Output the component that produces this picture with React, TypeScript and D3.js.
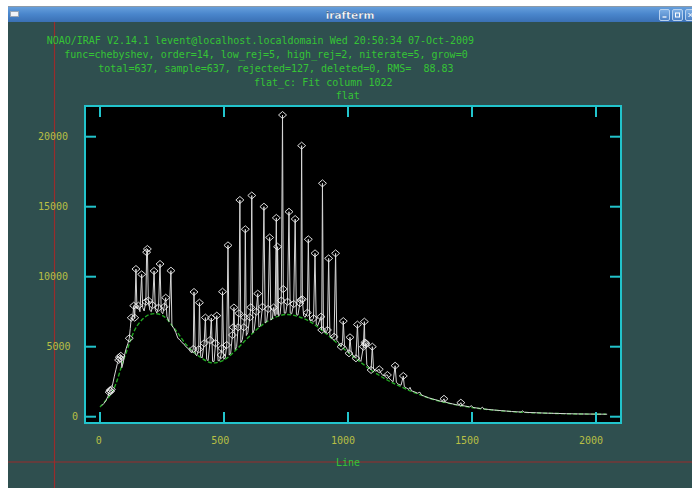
import React from 'react';
import * as d3 from 'd3';

const W = 692;
const H = 488;

// Header printed by the icfit task
const headerLines = [
  'NOAO/IRAF V2.14.1 levent@localhost.localdomain Wed 20:50:34 07-Oct-2009',
  'func=chebyshev, order=14, low_rej=5, high_rej=2, niterate=5, grow=0',
  'total=637, sample=637, rejected=127, deleted=0, RMS=  88.83',
  'flat_c: Fit column 1022',
  'flat',
];
const xLabel = 'Line';
const windowTitle = 'irafterm';

const xTicks = [0, 500, 1000, 1500, 2000];
const yTicks = [0, 5000, 10000, 15000, 20000];

// Chebyshev fit (order 14) sampled along the column
const fitLines = [0, 50, 100, 150, 200, 250, 300, 350, 400, 450, 500, 550, 600, 650, 700, 750, 800,
  850, 900, 950, 1000, 1050, 1100, 1150, 1200, 1250, 1300, 1350, 1400, 1450, 1500, 1550, 1600,
  1650, 1700, 1750, 1800, 1850, 1900, 1950, 2000, 2040];
const fitCounts = [700, 1800, 4300, 6500, 7300, 7250, 6300, 5100, 4300, 3850, 4050, 4800, 5700,
  6500, 7050, 7300, 7150, 6750, 6100, 5350, 4600, 3900, 3250, 2700, 2250, 1850, 1500, 1200, 980,
  800, 660, 540, 450, 380, 320, 280, 250, 225, 205, 190, 180, 175];

// Column samples: [line, counts, rejected (1) or kept (0)]
const rise: [number, number, number][] = [
  [8, 800, 0], [16, 950, 0], [24, 1150, 0], [32, 1450, 0], [37, 1750, 1], [40, 1880, 1],
  [43, 1820, 1], [46, 1950, 1], [52, 2400, 0], [58, 2900, 0], [64, 3350, 0], [70, 3800, 0],
  [75, 4050, 1], [78, 4250, 1], [81, 4150, 1], [84, 4350, 1], [88, 3500, 0], [94, 3900, 0],
  [100, 4500, 0], [106, 4900, 0], [112, 5200, 0],
];
const firstHump: [number, number, number][] = [
  [118, 5600, 1], [122, 6300, 0], [126, 7070, 1], [131, 6900, 0], [136, 7930, 1], [140, 7070, 1],
  [145, 10550, 1], [149, 7700, 0], [155, 7930, 1], [161, 7500, 0], [168, 10170, 1], [172, 7800, 0],
  [178, 7550, 0], [185, 8210, 1], [188, 11750, 1], [191, 11980, 1], [195, 8300, 1], [201, 7600, 0],
  [207, 7500, 0], [212, 7970, 1], [218, 10410, 1], [223, 7650, 0], [229, 7400, 0], [236, 7790, 1],
  [242, 10910, 1], [247, 7500, 0], [253, 7350, 0], [259, 7850, 1], [265, 8500, 1], [270, 7150, 0],
  [278, 6800, 0], [286, 10430, 1], [290, 6500, 0], [298, 6300, 0], [306, 6000, 0], [314, 5600, 0],
  [322, 5500, 0], [330, 5300, 0], [338, 5200, 0], [346, 5000, 0], [354, 4900, 0], [362, 4700, 0],
  [370, 4550, 0],
];
const valley: [number, number, number][] = [
  [376, 4836, 1], [379, 8910, 1], [384, 4500, 0], [390, 4350, 0], [398, 4814, 1], [401, 8143, 1],
  [406, 4300, 0], [412, 4200, 0], [420, 5243, 1], [425, 7080, 1], [430, 4100, 0], [436, 4000, 0],
  [444, 5479, 1], [449, 7050, 1], [454, 3950, 0], [460, 3950, 0], [466, 5243, 1], [471, 7220, 1],
  [476, 4000, 0], [482, 4000, 0], [488, 4407, 1], [491, 4886, 1], [494, 8929, 1], [499, 4100, 0],
  [505, 4200, 0], [511, 5121, 1], [516, 12240, 1], [521, 4400, 0], [527, 4550, 0], [534, 5836, 1],
  [537, 6386, 1], [540, 7800, 1], [545, 4800, 0], [551, 5000, 0],
];
const secondHump: [number, number, number][] = [
  [557, 6386, 1], [560, 7386, 1], [564, 15480, 1], [568, 5300, 0], [574, 5500, 0], [580, 6386, 1],
  [583, 7100, 1], [586, 13390, 1], [590, 5800, 0], [596, 6000, 0], [604, 7100, 1], [608, 7814, 1],
  [612, 15800, 1], [616, 6000, 0], [622, 6200, 0], [630, 7500, 1], [636, 8790, 1], [641, 6400, 0],
  [647, 6500, 0], [655, 7850, 1], [661, 15000, 1], [666, 6700, 0], [672, 6800, 0], [678, 7700, 1],
  [684, 12800, 1], [689, 6900, 0], [695, 7000, 0], [700, 7800, 1], [706, 7200, 0], [711, 14200, 1],
  [714, 7300, 0], [716, 12140, 1], [720, 7200, 0], [726, 7300, 0], [731, 8300, 1], [736, 21550, 1],
  [739, 9120, 1], [743, 7400, 0], [749, 7400, 0], [756, 8214, 1], [762, 14640, 1], [767, 7400, 0],
  [773, 7350, 0], [781, 8050, 1], [787, 14120, 1], [792, 7300, 0], [798, 7250, 0], [806, 8100, 1],
  [810, 8336, 1], [813, 19360, 1], [816, 8390, 1], [821, 7200, 0], [827, 7100, 0], [836, 7429, 1],
  [840, 12670, 1], [845, 6900, 0], [851, 6850, 0], [861, 7029, 1], [867, 11670, 1], [872, 6600, 0],
  [878, 6500, 0], [891, 7143, 1], [894, 6193, 1], [897, 16670, 1], [901, 6200, 0], [908, 6000, 0],
  [917, 6193, 1], [922, 11310, 1], [927, 5800, 0], [934, 5650, 0], [944, 5714, 1], [950, 11670, 1],
  [955, 5450, 0], [962, 5300, 0], [972, 5000, 1], [978, 5350, 0], [981, 6830, 1], [986, 5100, 0],
  [994, 4900, 0], [1004, 4529, 1], [1008, 5671, 1], [1013, 4600, 0], [1020, 4400, 0],
  [1032, 4171, 1], [1038, 6580, 1], [1044, 4100, 0], [1052, 3950, 0], [1062, 5000, 1],
  [1066, 6790, 1], [1068, 5300, 1], [1070, 5150, 1], [1072, 5250, 1], [1076, 3700, 0],
  [1084, 3550, 0], [1093, 3336, 1], [1098, 5000, 1], [1103, 3400, 0], [1112, 3250, 0],
  [1126, 3386, 1], [1130, 3200, 0], [1140, 2950, 0], [1159, 2979, 1], [1163, 2800, 0],
  [1174, 2600, 0], [1182, 2500, 0], [1190, 3640, 1], [1195, 2450, 0], [1205, 2300, 0],
  [1214, 2250, 0], [1223, 2910, 1], [1227, 2150, 0], [1236, 2050, 0],
];
const tail: [number, number, number][] = [
  [1245, 1950, 0], [1250, 2100, 0], [1256, 1850, 0], [1268, 1780, 0], [1280, 1680, 0],
  [1290, 1750, 0], [1296, 1550, 0], [1310, 1450, 0], [1325, 1350, 0], [1340, 1270, 0],
  [1355, 1200, 0], [1370, 1120, 0], [1380, 1080, 0], [1387, 1280, 1], [1392, 1050, 0],
  [1405, 980, 0], [1420, 920, 0], [1435, 860, 0], [1448, 820, 0], [1455, 1000, 1], [1460, 800, 0],
  [1475, 750, 0], [1490, 700, 0], [1498, 790, 0], [1504, 660, 0], [1520, 620, 0], [1535, 580, 0],
  [1542, 680, 0], [1548, 550, 0], [1565, 520, 0], [1580, 490, 0], [1600, 460, 0], [1620, 430, 0],
  [1640, 400, 0], [1660, 370, 0], [1680, 350, 0], [1698, 330, 0], [1704, 420, 0], [1710, 320, 0],
  [1730, 300, 0], [1760, 280, 0], [1790, 260, 0], [1820, 245, 0], [1850, 230, 0], [1880, 215, 0],
  [1910, 205, 0], [1940, 195, 0], [1970, 190, 0], [2000, 185, 0], [2030, 180, 0], [2045, 178, 0],
];

const BG = '#2f4f4f';
const CYAN = '#22c4cc';
const GREEN_TEXT = '#35c435';
const LABEL = '#b8bf45';
const CURSOR = '#9a2c2c';
const MONO = '"DejaVu Sans Mono", monospace';

export default function App() {
  const plot = { left: 85, right: 621, top: 106, bottom: 423 };
  const x = d3.scaleLinear().domain([-60.5, 2100.8]).range([plot.left, plot.right]);
  const y = d3.scaleLinear().domain([-450, 22193]).range([plot.bottom, plot.top]);

  const samples = [...rise, ...firstHump, ...valley, ...secondHump, ...tail];
  const dataPath = d3.line<[number, number, number]>()
    .x((d) => x(d[0]))
    .y((d) => y(d[1]))(samples) || '';

  const fitPts = fitLines.map((l, i) => [l, fitCounts[i]] as [number, number]);
  const fitPath = d3.line<[number, number]>()
    .x((d) => x(d[0]))
    .y((d) => y(d[1]))
    .curve(d3.curveCatmullRom)(fitPts) || '';

  const rejectedPts = samples.filter((d) => d[2] === 1);
  const diamond = 'M0,-3.5 L4,0 L0,3.5 L-4,0 Z';

  // IRAF lays out text with a nominal 8.5px cell while the terminal font is 6px wide
  const cell = 8.5;
  const headerX = [46.7, 64.3, 98.3, 254, 335.7];
  const headerY = [40.7, 54.7, 68.7, 82.3, 95.7];
  const tickLen = 11;

  return (
    <svg width={W} height={H} style={{ position: 'absolute', left: 0, top: 0 }}
      xmlns="http://www.w3.org/2000/svg">
      <defs>
        <linearGradient id="titlebar" x1="0" y1="0" x2="0" y2="1">
          <stop offset="0" stopColor="#6aa2de" />
          <stop offset="0.5" stopColor="#4a86cc" />
          <stop offset="1" stopColor="#3a70b4" />
        </linearGradient>
        <linearGradient id="btn" x1="0" y1="0" x2="0" y2="1">
          <stop offset="0" stopColor="#7eb0e6" />
          <stop offset="1" stopColor="#4a80c4" />
        </linearGradient>
      </defs>

      {/* window body */}
      <rect x={8} y={6} width={W - 8} height={H - 6} fill={BG} />

      {/* title bar */}
      <rect x={8} y={6} width={W - 8} height={16} fill="url(#titlebar)" />
      <line x1={8} x2={W} y1={6.5} y2={6.5} stroke="#8c9aa8" />
      <rect x={10.5} y={11.5} width={8} height={5} fill="#f2f4f8" stroke="#9aa6b4" />
      <text x={350} y={18.5} textAnchor="middle" fontFamily="'DejaVu Sans', sans-serif"
        fontSize={10.5} fontWeight="bold" fill="#ffffff" stroke="#2a4f80" strokeWidth={0.3}>
        {windowTitle}
      </text>
      {[659.5, 672.5, 685.5].map((bx, i) => (
        <g key={i}>
          <rect x={bx} y={9.5} width={10} height={11} rx={1.5} fill="url(#btn)" stroke="#b8d2f0" />
          {i === 0 && <line x1={bx + 3} x2={bx + 7} y1={17} y2={17} stroke="#fff" strokeWidth={1.2} />}
          {i === 1 && <rect x={bx + 3} y={13} width={4} height={4} fill="none" stroke="#fff" />}
          {i === 2 && <path d={`M${bx + 3},13 L${bx + 7},17 M${bx + 7},13 L${bx + 3},17`} stroke="#fff" />}
        </g>
      ))}

      {/* cross-hair cursor */}
      <line x1={54.5} x2={54.5} y1={22} y2={H} stroke={CURSOR} strokeWidth={1.2} />
      <line x1={8} x2={W} y1={462} y2={462} stroke={CURSOR} strokeWidth={1.2} />

      {/* header */}
      {headerLines.map((t, i) => (
        <text key={i} x={headerX[i]} y={headerY[i]} dy="0.35em" fontFamily={MONO} fontSize={10}
          fill={GREEN_TEXT} xmlSpace="preserve" style={{ whiteSpace: 'pre' }}>
          {t}
        </text>
      ))}

      {/* plot area */}
      <rect x={plot.left} y={plot.top} width={plot.right - plot.left}
        height={plot.bottom - plot.top} fill="#000" />

      <path d={fitPath} fill="none" stroke="#22a822" strokeWidth={1.4} strokeDasharray="4 2" />
      <path d={dataPath} fill="none" stroke="#d6d6d6" strokeWidth={1} />
      {rejectedPts.map((d, i) => (
        <path key={i} d={diamond} transform={`translate(${x(d[0])},${y(d[1])})`}
          fill="none" stroke="#f0f0f0" strokeWidth={0.9} />
      ))}

      {/* frame and ticks */}
      <rect x={plot.left} y={plot.top} width={plot.right - plot.left}
        height={plot.bottom - plot.top} fill="none" stroke={CYAN} strokeWidth={2} />
      {xTicks.map((t) => (
        <g key={`x${t}`}>
          <line x1={x(t)} x2={x(t)} y1={plot.bottom} y2={plot.bottom - tickLen} stroke={CYAN} strokeWidth={2} />
          <line x1={x(t)} x2={x(t)} y1={plot.top} y2={plot.top + tickLen} stroke={CYAN} strokeWidth={2} />
          <text x={x(t) - (String(t).length * cell) / 2} y={440} dy="0.35em" fontFamily={MONO}
            fontSize={10} fill={LABEL}>{t}</text>
        </g>
      ))}
      {yTicks.map((t) => (
        <g key={`y${t}`}>
          <line x1={plot.left} x2={plot.left + tickLen} y1={y(t)} y2={y(t)} stroke={CYAN} strokeWidth={2} />
          <line x1={plot.right} x2={plot.right - tickLen} y1={y(t)} y2={y(t)} stroke={CYAN} strokeWidth={2} />
          <text x={80.5 - String(t).length * cell} y={y(t)} dy="0.35em" fontFamily={MONO}
            fontSize={10} fill={LABEL}>{t}</text>
        </g>
      ))}

      <text x={(plot.left + plot.right) / 2 - (xLabel.length * cell) / 2} y={462} dy="0.35em"
        fontFamily={MONO} fontSize={10} fill={GREEN_TEXT}>{xLabel}</text>
    </svg>
  );
}
